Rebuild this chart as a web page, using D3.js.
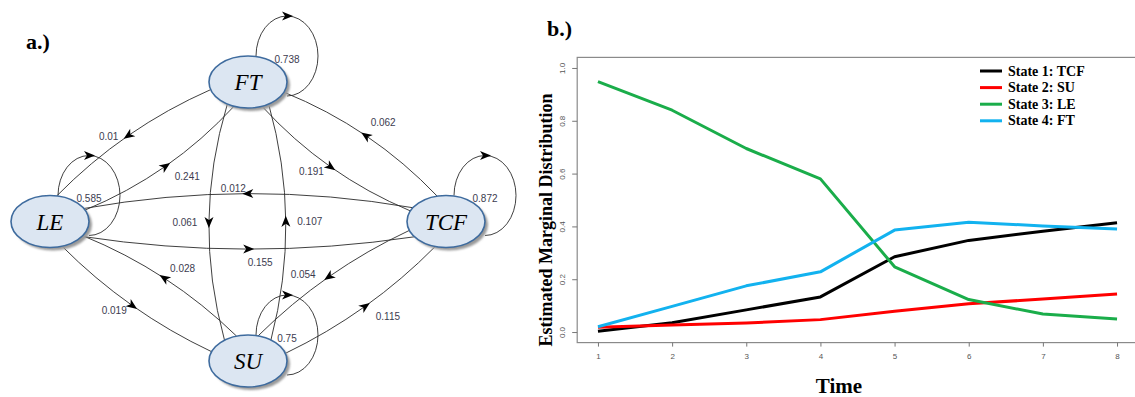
<!DOCTYPE html>
<html>
<head>
<meta charset="utf-8">
<script src="https://cdn.jsdelivr.net/npm/d3@7"></script>
<style>
  body { margin: 0; background: #fff; }
  svg { display: block; }
</style>
</head>
<body>
<div id="chart"></div>
<script>
// ---- data: panel b ----
var times = [1, 2, 3, 4, 5, 6, 7, 8];
var stateLabels = ["State 1: TCF", "State 2: SU", "State 3: LE", "State 4: FT"];
var tcfValues = [0.003, 0.035, 0.084, 0.133, 0.285, 0.347, 0.382, 0.414];
var suValues  = [0.018, 0.027, 0.034, 0.047, 0.079, 0.107, 0.125, 0.144];
var leValues  = [0.948, 0.840, 0.695, 0.580, 0.247, 0.123, 0.068, 0.049];
var ftValues  = [0.020, 0.097, 0.175, 0.228, 0.386, 0.416, 0.402, 0.390];
var yTicks = [0, 0.2, 0.4, 0.6, 0.8, 1.0];

// ---- data: panel a (transition probabilities) ----
var nodeNames = ["FT", "LE", "TCF", "SU"];
var selfProbs = [0.738, 0.585, 0.872, 0.75];
var transFrom  = ["FT", "LE", "TCF", "LE", "FT", "SU", "FT", "TCF", "SU", "LE", "TCF", "SU"];
var transTo    = ["LE", "FT", "LE", "TCF", "SU", "FT", "TCF", "FT", "LE", "SU", "SU", "TCF"];
var transProbs = [0.01, 0.241, 0.012, 0.155, 0.061, 0.107, 0.191, 0.062, 0.028, 0.019, 0.054, 0.115];

var W = 1135, H = 397;
var svg = d3.select("#chart").append("svg").attr("width", W).attr("height", H);
var serif = "'Liberation Serif','Times New Roman',serif";
var sans = "Arial,'Liberation Sans',sans-serif";

var defs = svg.append("defs");
defs.append("filter").attr("id", "blur")
  .append("feGaussianBlur").attr("stdDeviation", 1.2);

// ================= panel a =================
var grid = {FT: [0, -1], LE: [-1, 0], TCF: [1, 0], SU: [0, 1]};
var gx = d3.scaleLinear().domain([-1, 1]).range([50, 446]);
var gy = d3.scaleLinear().domain([-1, 1]).range([82, 361]);
var rx = 39, ry = 26;

// attachment angles, curvature and label offset of each edge
var edgeGeom = {
  "FT-LE":  {a0: 163,  a1: -80,  bend: 18, lab: [-20, 1]},
  "LE-FT":  {a0: -26,  a1: 111,  bend: 20, lab: [22, 10]},
  "TCF-LE": {a0: 212,  a1: -30,  bend: 29, lab: [-15, -5]},
  "LE-TCF": {a0: 35,   a1: 144,  bend: 25, lab: [12, 13]},
  "FT-SU":  {a0: 122,  a1: -127, bend: 34, lab: [-24, 1]},
  "SU-FT":  {a0: -54,  a1: 58,   bend: 32, lab: [24, 0]},
  "FT-TCF": {a0: 69,   a1: -156, bend: 20, lab: [-19, 5]},
  "TCF-FT": {a0: -103, a1: 23,   bend: 20, lab: [17, -13]},
  "SU-LE":  {a0: -107, a1: 33,   bend: 18, lab: [18, -10]},
  "LE-SU":  {a0: 72,   a1: 201,  bend: 16, lab: [-18, 5]},
  "TCF-SU": {a0: 160,  a1: -75,  bend: 16, lab: [-26, -2]},
  "SU-TCF": {a0: -17,  a1: 106,  bend: 16, lab: [23, 10]}
};

function center(n) { return [gx(grid[n][0]), gy(grid[n][1])]; }
function onEllipse(n, deg) {
  var c = center(n), r = deg * Math.PI / 180;
  return [c[0] + rx * Math.cos(r), c[1] + ry * Math.sin(r)];
}

var arrowPath = "M6,0 L-5,-4.5 L-2,0 L-5,4.5 Z";
var ga = svg.append("g").attr("class", "diagram");

var edges = transFrom.map(function(f, i) {
  var g = edgeGeom[f + "-" + transTo[i]];
  var p0 = onEllipse(f, g.a0), p2 = onEllipse(transTo[i], g.a1);
  var dx = p2[0] - p0[0], dy = p2[1] - p0[1], L = Math.sqrt(dx * dx + dy * dy);
  var m = [(p0[0] + p2[0]) / 2, (p0[1] + p2[1]) / 2];
  var c = [m[0] - g.bend * dy / L, m[1] + g.bend * dx / L];
  var mid = [0.25 * p0[0] + 0.5 * c[0] + 0.25 * p2[0], 0.25 * p0[1] + 0.5 * c[1] + 0.25 * p2[1]];
  return {p0: p0, c: c, p2: p2, mid: mid, ang: Math.atan2(dy, dx) * 180 / Math.PI,
          lab: [mid[0] + g.lab[0], mid[1] + g.lab[1]], p: transProbs[i]};
});

ga.selectAll(".edge").data(edges).enter().append("path")
  .attr("class", "edge")
  .attr("d", function(d) { return "M" + d.p0 + " Q" + d.c + " " + d.p2; })
  .attr("fill", "none").attr("stroke", "#2a2a2a").attr("stroke-width", 0.9);

ga.selectAll(".arrow").data(edges).enter().append("path")
  .attr("class", "arrow").attr("d", arrowPath).attr("fill", "#000")
  .attr("transform", function(d) { return "translate(" + d.mid + ") rotate(" + d.ang + ")"; });

ga.selectAll(".elab").data(edges).enter().append("text")
  .attr("x", function(d) { return d.lab[0]; })
  .attr("y", function(d) { return d.lab[1]; })
  .attr("text-anchor", "middle").attr("dominant-baseline", "central")
  .style("font", "10px " + sans).attr("fill", "#3c3c50")
  .text(function(d) { return d.p; });

// self loops
var loops = nodeNames.map(function(n, i) {
  var c = center(n);
  return {cx: c[0] + 39, cy: c[1] - 26, p: selfProbs[i]};
});
var lrx = 31, lry = 40;
ga.selectAll(".loop").data(loops).enter().append("path")
  .attr("d", function(d) {
    return "M" + (d.cx - lrx) + "," + d.cy + " A" + lrx + "," + lry + " 0 1 1 " + d.cx + "," + (d.cy + lry);
  })
  .attr("fill", "none").attr("stroke", "#2a2a2a").attr("stroke-width", 0.9);
ga.selectAll(".larrow").data(loops).enter().append("path")
  .attr("d", arrowPath).attr("fill", "#000")
  .attr("transform", function(d) { return "translate(" + d.cx + "," + (d.cy - lry) + ")"; });
ga.selectAll(".llab").data(loops).enter().append("text")
  .attr("x", function(d) { return d.cx; })
  .attr("y", function(d) { return d.cy + 3; })
  .attr("text-anchor", "middle").attr("dominant-baseline", "central")
  .style("font", "10px " + sans).attr("fill", "#3c3c50")
  .text(function(d) { return d.p; });

// nodes
var nodes = ga.selectAll(".node").data(nodeNames).enter().append("g")
  .attr("transform", function(d) { return "translate(" + center(d) + ")"; });
nodes.append("ellipse").attr("cx", 3).attr("cy", 3).attr("rx", rx).attr("ry", ry)
  .attr("fill", "#9a9a9a").attr("filter", "url(#blur)");
nodes.append("ellipse").attr("rx", rx).attr("ry", ry)
  .attr("fill", "#dce6f2").attr("stroke", "#3e6b9e").attr("stroke-width", 1.6);
nodes.append("text").attr("text-anchor", "middle").attr("y", 8)
  .style("font-family", serif).style("font-style", "italic").style("font-size", "23px")
  .attr("fill", "#000")
  .text(function(d) { return d; });

svg.append("text").attr("x", 26).attr("y", 49)
  .style("font", "bold 22px " + serif).text("a.)");

// ================= panel b =================
var x = d3.scaleLinear().domain([0.72, 8.28]).range([577.2, 1137.8]);
var y = d3.scaleLinear().domain([-0.04, 1.04]).range([342.6, 57.4]);

svg.append("text").attr("x", 547).attr("y", 36)
  .style("font", "bold 22px " + serif).text("b.)");

svg.append("rect")
  .attr("x", x.range()[0]).attr("y", y.range()[1])
  .attr("width", x.range()[1] - x.range()[0]).attr("height", y.range()[0] - y.range()[1])
  .attr("fill", "none").attr("stroke", "#8a8a8a").attr("stroke-width", 1.2);

var xAxis = svg.append("g").attr("transform", "translate(0," + y.range()[0] + ")")
  .call(d3.axisBottom(x).tickValues(times).tickSize(4).tickPadding(7));
var yAxis = svg.append("g").attr("transform", "translate(" + x.range()[0] + ",0)")
  .call(d3.axisLeft(y).tickValues(yTicks).tickFormat(d3.format(".1f")).tickSize(5));
[xAxis, yAxis].forEach(function(a) {
  a.select(".domain").remove();
  a.selectAll(".tick line").attr("stroke", "#777");
  a.selectAll("text").attr("fill", "#555").style("font", "8px " + sans);
});
yAxis.selectAll("text")
  .attr("x", null).attr("dy", null).attr("text-anchor", "middle")
  .attr("transform", "translate(-12,0) rotate(-90)");

var series = [tcfValues, suValues, leValues, ftValues];
var colors = ["#000000", "#ff0000", "#1aad4a", "#12b2ef"];
var line = d3.line()
  .x(function(d, i) { return x(times[i]); })
  .y(function(d) { return y(d); });

svg.selectAll(".series").data(series).enter().append("path")
  .attr("class", "series")
  .attr("d", line)
  .attr("fill", "none")
  .attr("stroke", function(d, i) { return colors[i]; })
  .attr("stroke-width", 3)
  .attr("stroke-linejoin", "round");

var legend = svg.append("g").selectAll("g").data(stateLabels).enter().append("g")
  .attr("transform", function(d, i) { return "translate(980," + (71 + i * 16.6) + ")"; });
legend.append("line").attr("x1", 0).attr("x2", 22)
  .attr("stroke", function(d, i) { return colors[i]; }).attr("stroke-width", 3);
legend.append("text").attr("x", 28).attr("dominant-baseline", "central")
  .style("font", "bold 14px " + serif).text(function(d) { return d; });

svg.append("text")
  .attr("transform", "translate(552,220) rotate(-90)")
  .attr("text-anchor", "middle")
  .style("font", "bold 18px " + serif)
  .text("Estimated Marginal Distribution");

svg.append("text").attr("x", 839).attr("y", 393).attr("text-anchor", "middle")
  .style("font", "bold 21px " + serif).text("Time");
</script>
</body>
</html>
